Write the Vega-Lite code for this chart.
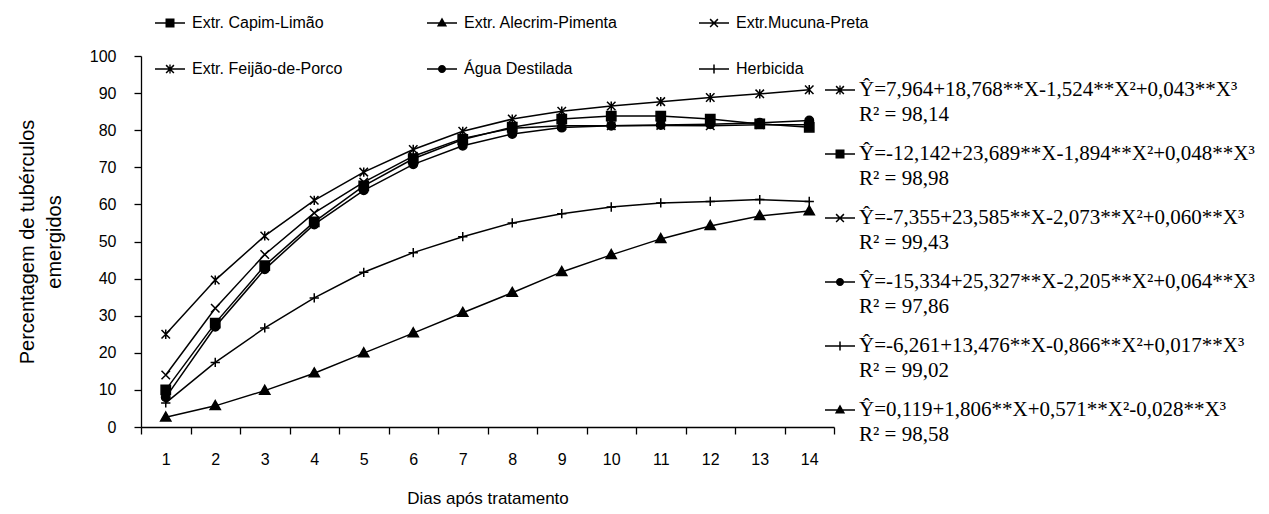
{
  "$schema": "https://vega.github.io/schema/vega-lite/v6.json",
  "width": 693,
  "height": 371,
  "autosize": {"type": "none"},
  "padding": {"left": 141, "top": 56, "right": 435, "bottom": 87},
  "background": "white",
  "config": {
    "view": {"stroke": null},
    "font": "Liberation Sans",
    "style": {"guide-label": {"lineHeight": 25}},
    "axis": {
      "domainColor": "black", "tickColor": "black", "labelColor": "black", "titleColor": "black",
      "grid": false, "labelFont": "Liberation Sans", "titleFont": "Liberation Sans",
      "labelFontSize": 16, "titleFontSize": 17, "titleFontWeight": "normal",
      "domainWidth": 1.3, "tickWidth": 1.3
    }
  },
  "data": {
    "values": [
      {"dia": 1, "serie": "Extr. Capim-Limão", "valor": 10},
      {"dia": 2, "serie": "Extr. Capim-Limão", "valor": 28},
      {"dia": 3, "serie": "Extr. Capim-Limão", "valor": 43.5},
      {"dia": 4, "serie": "Extr. Capim-Limão", "valor": 55.3},
      {"dia": 5, "serie": "Extr. Capim-Limão", "valor": 65},
      {"dia": 6, "serie": "Extr. Capim-Limão", "valor": 72.3},
      {"dia": 7, "serie": "Extr. Capim-Limão", "valor": 77.5},
      {"dia": 8, "serie": "Extr. Capim-Limão", "valor": 80.8},
      {"dia": 9, "serie": "Extr. Capim-Limão", "valor": 83},
      {"dia": 10, "serie": "Extr. Capim-Limão", "valor": 83.8},
      {"dia": 11, "serie": "Extr. Capim-Limão", "valor": 83.8},
      {"dia": 12, "serie": "Extr. Capim-Limão", "valor": 83},
      {"dia": 13, "serie": "Extr. Capim-Limão", "valor": 81.7},
      {"dia": 14, "serie": "Extr. Capim-Limão", "valor": 80.8},
      {"dia": 1, "serie": "Extr. Alecrim-Pimenta", "valor": 2.6},
      {"dia": 2, "serie": "Extr. Alecrim-Pimenta", "valor": 5.7},
      {"dia": 3, "serie": "Extr. Alecrim-Pimenta", "valor": 9.8},
      {"dia": 4, "serie": "Extr. Alecrim-Pimenta", "valor": 14.5},
      {"dia": 5, "serie": "Extr. Alecrim-Pimenta", "valor": 19.9},
      {"dia": 6, "serie": "Extr. Alecrim-Pimenta", "valor": 25.3},
      {"dia": 7, "serie": "Extr. Alecrim-Pimenta", "valor": 30.8},
      {"dia": 8, "serie": "Extr. Alecrim-Pimenta", "valor": 36.2},
      {"dia": 9, "serie": "Extr. Alecrim-Pimenta", "valor": 41.8},
      {"dia": 10, "serie": "Extr. Alecrim-Pimenta", "valor": 46.4},
      {"dia": 11, "serie": "Extr. Alecrim-Pimenta", "valor": 50.7},
      {"dia": 12, "serie": "Extr. Alecrim-Pimenta", "valor": 54.2},
      {"dia": 13, "serie": "Extr. Alecrim-Pimenta", "valor": 56.9},
      {"dia": 14, "serie": "Extr. Alecrim-Pimenta", "valor": 58.2},
      {"dia": 1, "serie": "Extr.Mucuna-Preta", "valor": 14},
      {"dia": 2, "serie": "Extr.Mucuna-Preta", "valor": 32},
      {"dia": 3, "serie": "Extr.Mucuna-Preta", "valor": 46.5},
      {"dia": 4, "serie": "Extr.Mucuna-Preta", "valor": 57.7},
      {"dia": 5, "serie": "Extr.Mucuna-Preta", "valor": 66},
      {"dia": 6, "serie": "Extr.Mucuna-Preta", "valor": 73},
      {"dia": 7, "serie": "Extr.Mucuna-Preta", "valor": 77.8},
      {"dia": 8, "serie": "Extr.Mucuna-Preta", "valor": 80.5},
      {"dia": 9, "serie": "Extr.Mucuna-Preta", "valor": 81.2},
      {"dia": 10, "serie": "Extr.Mucuna-Preta", "valor": 81.2},
      {"dia": 11, "serie": "Extr.Mucuna-Preta", "valor": 81.3},
      {"dia": 12, "serie": "Extr.Mucuna-Preta", "valor": 81.2},
      {"dia": 13, "serie": "Extr.Mucuna-Preta", "valor": 81.5},
      {"dia": 14, "serie": "Extr.Mucuna-Preta", "valor": 81.5},
      {"dia": 1, "serie": "Extr. Feijão-de-Porco", "valor": 25},
      {"dia": 2, "serie": "Extr. Feijão-de-Porco", "valor": 39.6},
      {"dia": 3, "serie": "Extr. Feijão-de-Porco", "valor": 51.5},
      {"dia": 4, "serie": "Extr. Feijão-de-Porco", "valor": 61.1},
      {"dia": 5, "serie": "Extr. Feijão-de-Porco", "valor": 68.7},
      {"dia": 6, "serie": "Extr. Feijão-de-Porco", "valor": 74.8},
      {"dia": 7, "serie": "Extr. Feijão-de-Porco", "valor": 79.7},
      {"dia": 8, "serie": "Extr. Feijão-de-Porco", "valor": 83},
      {"dia": 9, "serie": "Extr. Feijão-de-Porco", "valor": 85.1},
      {"dia": 10, "serie": "Extr. Feijão-de-Porco", "valor": 86.5},
      {"dia": 11, "serie": "Extr. Feijão-de-Porco", "valor": 87.7},
      {"dia": 12, "serie": "Extr. Feijão-de-Porco", "valor": 88.8},
      {"dia": 13, "serie": "Extr. Feijão-de-Porco", "valor": 89.8},
      {"dia": 14, "serie": "Extr. Feijão-de-Porco", "valor": 90.9},
      {"dia": 1, "serie": "Água Destilada", "valor": 8},
      {"dia": 2, "serie": "Água Destilada", "valor": 27},
      {"dia": 3, "serie": "Água Destilada", "valor": 42.5},
      {"dia": 4, "serie": "Água Destilada", "valor": 54.6},
      {"dia": 5, "serie": "Água Destilada", "valor": 63.8},
      {"dia": 6, "serie": "Água Destilada", "valor": 70.8},
      {"dia": 7, "serie": "Água Destilada", "valor": 75.8},
      {"dia": 8, "serie": "Água Destilada", "valor": 79},
      {"dia": 9, "serie": "Água Destilada", "valor": 80.7},
      {"dia": 10, "serie": "Água Destilada", "valor": 81.2},
      {"dia": 11, "serie": "Água Destilada", "valor": 81.4},
      {"dia": 12, "serie": "Água Destilada", "valor": 81.6},
      {"dia": 13, "serie": "Água Destilada", "valor": 82},
      {"dia": 14, "serie": "Água Destilada", "valor": 82.6},
      {"dia": 1, "serie": "Herbicida", "valor": 6.5},
      {"dia": 2, "serie": "Herbicida", "valor": 17.4},
      {"dia": 3, "serie": "Herbicida", "valor": 26.7},
      {"dia": 4, "serie": "Herbicida", "valor": 34.8},
      {"dia": 5, "serie": "Herbicida", "valor": 41.7},
      {"dia": 6, "serie": "Herbicida", "valor": 47},
      {"dia": 7, "serie": "Herbicida", "valor": 51.3},
      {"dia": 8, "serie": "Herbicida", "valor": 55},
      {"dia": 9, "serie": "Herbicida", "valor": 57.5},
      {"dia": 10, "serie": "Herbicida", "valor": 59.3},
      {"dia": 11, "serie": "Herbicida", "valor": 60.4},
      {"dia": 12, "serie": "Herbicida", "valor": 60.8},
      {"dia": 13, "serie": "Herbicida", "valor": 61.3},
      {"dia": 14, "serie": "Herbicida", "valor": 60.8}
    ]
  },
  "encoding": {
    "x": {
      "field": "dia", "type": "ordinal",
      "scale": {"paddingInner": 0, "paddingOuter": 0},
      "axis": {"title": "Dias após tratamento", "labelAngle": 0, "tickBand": "extent", "tickSize": 7, "labelPadding": 17, "titlePadding": 23}
    },
    "y": {
      "field": "valor", "type": "quantitative",
      "scale": {"domain": [0, 100]},
      "axis": {"title": ["Percentagem de tubérculos", "emergidos"], "values": [0, 10, 20, 30, 40, 50, 60, 70, 80, 90, 100], "labelOverlap": false, "tickSize": 7, "labelPadding": 18, "titlePadding": 25, "titleLineHeight": 27, "titleFontSize": 20}
    }
  },
  "layer": [
    {
      "mark": {"type": "line", "color": "black", "strokeWidth": 1.5},
      "encoding": {
        "detail": {"field": "serie"}
      }
    },
    {
      "mark": {"type": "point", "filled": true, "fill": "black", "stroke": "black", "strokeWidth": 1.5, "opacity": 1, "size": 72},
      "encoding": {
        "shape": {
          "field": "serie", "type": "nominal", "legend": null,
          "scale": {
            "domain": ["Extr. Capim-Limão", "Extr. Alecrim-Pimenta", "Extr.Mucuna-Preta", "Extr. Feijão-de-Porco", "Água Destilada", "Herbicida"],
            "range": [
              "M-1.1,-1.1H1.1V1.1H-1.1Z",
              "M0,-1.25L1.2,0.85H-1.2Z",
              "M-1,-1L1,1M-1,1L1,-1",
              "M-1,-1L1,1M-1,1L1,-1M0,-1.1V1.1",
              "M-1,0A1,1,0,1,0,1,0A1,1,0,1,0,-1,0Z",
              "M-1.1,0H1.1M0,-1.1V1.1"
            ]
          }
        }
      }
    },
    {
      "transform": [{"filter": "datum.valor < -1000"}],
      "mark": {"type": "point", "filled": true, "fill": "black", "strokeWidth": 0, "opacity": 1, "size": 900},
      "encoding": {
        "shape": {
          "field": "serie", "type": "nominal",
          "scale": {
            "domain": ["Extr. Capim-Limão", "Extr. Alecrim-Pimenta", "Extr.Mucuna-Preta", "Extr. Feijão-de-Porco", "Água Destilada", "Herbicida"],
            "range": [
              "M-1,-0.05H1V0.05H-1ZM-0.3,-0.3H0.3V0.3H-0.3Z",
              "M-1,-0.05H1V0.05H-1ZM0,-0.36L0.34,0.24H-0.34Z",
              "M-1,-0.05H1V0.05H-1ZM-0.225,-0.295L0.295,0.225L0.225,0.295L-0.295,-0.225ZM-0.295,0.225L0.225,-0.295L0.295,-0.225L-0.225,0.295Z",
              "M-1,-0.05H1V0.05H-1ZM-0.225,-0.295L0.295,0.225L0.225,0.295L-0.295,-0.225ZM-0.295,0.225L0.225,-0.295L0.295,-0.225L-0.225,0.295ZM-0.045,-0.3H0.045V0.3H-0.045Z",
              "M-1,-0.05H1V0.05H-1ZM-0.27,0A0.27,0.27,0,1,1,0.27,0A0.27,0.27,0,1,1,-0.27,0Z",
              "M-1,-0.05H1V0.05H-1ZM-0.05,-0.3H0.05V0.3H-0.05Z"
            ]
          },
          "legend": {
            "title": null, "orient": "none", "legendX": 14, "legendY": -48,
            "direction": "horizontal", "columns": 3, "gridAlign": "all",
            "columnPadding": 81, "rowPadding": 23, "padding": 0,
            "symbolSize": 900, "symbolStrokeWidth": 0, "symbolFillColor": "black",
            "labelFont": "Liberation Sans", "labelFontSize": 16, "labelColor": "black", "labelOffset": 7, "labelLimit": 0
          }
        }
      }
    },
    {
      "transform": [{"filter": "datum.valor < -1000"}],
      "mark": {"type": "point", "filled": true, "fill": "black", "strokeWidth": 0, "opacity": 1, "size": 900},
      "encoding": {
        "shape": {
          "field": "serie", "type": "nominal",
          "scale": {
            "domain": ["Extr. Feijão-de-Porco", "Extr. Capim-Limão", "Extr.Mucuna-Preta", "Água Destilada", "Herbicida", "Extr. Alecrim-Pimenta"],
            "range": [
              "M-1,-0.05H1V0.05H-1ZM-0.225,-0.295L0.295,0.225L0.225,0.295L-0.295,-0.225ZM-0.295,0.225L0.225,-0.295L0.295,-0.225L-0.225,0.295ZM-0.045,-0.3H0.045V0.3H-0.045Z",
              "M-1,-0.05H1V0.05H-1ZM-0.3,-0.3H0.3V0.3H-0.3Z",
              "M-1,-0.05H1V0.05H-1ZM-0.225,-0.295L0.295,0.225L0.225,0.295L-0.295,-0.225ZM-0.295,0.225L0.225,-0.295L0.295,-0.225L-0.225,0.295Z",
              "M-1,-0.05H1V0.05H-1ZM-0.27,0A0.27,0.27,0,1,1,0.27,0A0.27,0.27,0,1,1,-0.27,0Z",
              "M-1,-0.05H1V0.05H-1ZM-0.05,-0.3H0.05V0.3H-0.05Z",
              "M-1,-0.05H1V0.05H-1ZM0,-0.36L0.34,0.24H-0.34Z"
            ]
          },
          "legend": {
            "title": null, "orient": "none", "legendX": 684, "legendY": 19,
            "direction": "vertical", "columns": 1, "rowPadding": 14, "padding": 0,
            "symbolSize": 900, "symbolStrokeWidth": 0, "symbolFillColor": "black",
            "labelFont": "Liberation Serif", "labelFontSize": 21, "labelColor": "black", "labelOffset": 4, "labelLimit": 0,
            "labelBaseline": "middle",
            "labelExpr": "datum.label == 'Extr. Feijão-de-Porco' ? ['Ŷ=7,964+18,768**X-1,524**X²+0,043**X³', 'R² = 98,14'] : datum.label == 'Extr. Capim-Limão' ? ['Ŷ=-12,142+23,689**X-1,894**X²+0,048**X³', 'R² = 98,98'] : datum.label == 'Extr.Mucuna-Preta' ? ['Ŷ=-7,355+23,585**X-2,073**X²+0,060**X³', 'R² = 99,43'] : datum.label == 'Água Destilada' ? ['Ŷ=-15,334+25,327**X-2,205**X²+0,064**X³', 'R² = 97,86'] : datum.label == 'Herbicida' ? ['Ŷ=-6,261+13,476**X-0,866**X²+0,017**X³', 'R² = 99,02'] : ['Ŷ=0,119+1,806**X+0,571**X²-0,028**X³', 'R² = 98,58']"
          }
        }
      }
    }
  ],
  "resolve": {"scale": {"shape": "independent"}, "legend": {"shape": "independent"}}
}
